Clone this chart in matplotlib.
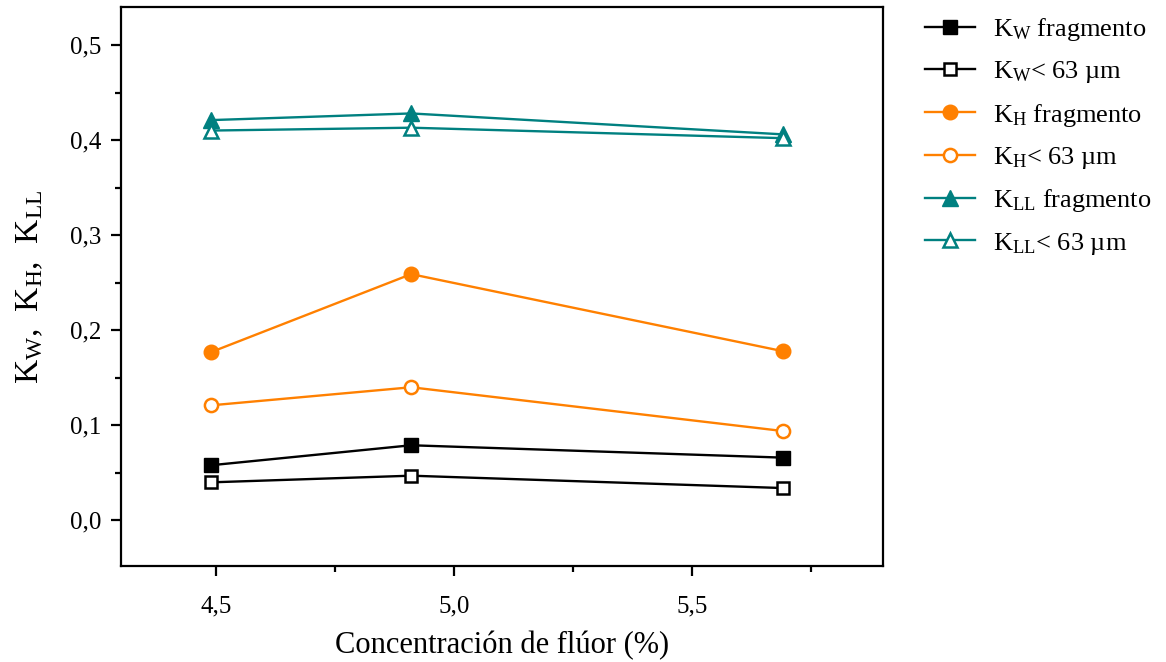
import matplotlib
matplotlib.use("Agg")
import matplotlib.pyplot as plt

plt.rcParams['font.family'] = ['Liberation Serif', 'DejaVu Serif']
plt.rcParams['mathtext.fontset'] = 'custom'
plt.rcParams['mathtext.rm'] = 'Liberation Serif'

# Data
fluor = [4.49, 4.91, 5.69]
kw_frag = [0.058, 0.079, 0.066]
kw_63 = [0.040, 0.047, 0.034]
kh_frag = [0.177, 0.259, 0.178]
kh_63 = [0.121, 0.140, 0.094]
kll_frag = [0.421, 0.428, 0.406]
kll_63 = [0.410, 0.413, 0.402]

labels = [r'$\mathregular{K_W}$ fragmento', r'$\mathregular{K_W}$< 63 µm',
          r'$\mathregular{K_H}$ fragmento', r'$\mathregular{K_H}$< 63 µm',
          r'$\mathregular{K_{LL}}$ fragmento', r'$\mathregular{K_{LL}}$< 63 µm']
xticks = [4.5, 5.0, 5.5]
xticklabels = ['4,5', '5,0', '5,5']
yticks = [0.0, 0.1, 0.2, 0.3, 0.4, 0.5]
yticklabels = ['0,0', '0,1', '0,2', '0,3', '0,4', '0,5']

black = '#000000'
orange = '#FF8000'
teal = '#008080'

fig = plt.figure(figsize=(11.66, 6.62), dpi=100)
ax = fig.add_axes([0.1035, 0.145, 0.6535, 0.8445])

lw = 1.7
ax.plot(fluor, kw_frag, color=black, lw=lw, marker='s', ms=10, mfc=black, mec=black, label=labels[0])
ax.plot(fluor, kw_63, color=black, lw=lw, marker='s', ms=8, mfc='white', mec=black, mew=1.8, label=labels[1])
ax.plot(fluor, kh_frag, color=orange, lw=lw, marker='o', ms=10.5, mfc=orange, mec=orange, label=labels[2])
ax.plot(fluor, kh_63, color=orange, lw=lw, marker='o', ms=9.5, mfc='white', mec=orange, mew=1.8, label=labels[3])
ax.plot(fluor, kll_frag, color=teal, lw=lw, marker='^', ms=11, mfc=teal, mec=teal, label=labels[4])
ax.plot(fluor, kll_63, color=teal, lw=lw, marker='^', ms=9.5, mfc='white', mec=teal, mew=1.8, label=labels[5])

ax.set_xlim(4.3, 5.9)
ax.set_ylim(-0.048, 0.54)
ax.set_xticks(xticks)
ax.set_xticklabels(xticklabels)
ax.set_xticks([4.75, 5.25, 5.75], minor=True)
ax.set_yticks(yticks)
ax.set_yticklabels(yticklabels)
ax.set_yticks([0.05, 0.15, 0.25, 0.35, 0.45], minor=True)

for s in ax.spines.values():
    s.set_linewidth(1.6)
ax.tick_params(which='major', direction='out', length=7, width=1.6, labelsize=18)
ax.tick_params(which='minor', direction='out', length=4, width=1.6)
ax.tick_params(axis='x', which='major', pad=14)
ax.tick_params(axis='y', which='major', pad=7)
ax.tick_params(top=False, right=False)

ax.set_xlabel('Concentración de flúor (%)', fontsize=22, labelpad=10)
ax.set_ylabel(r'$\mathregular{K_W,\ K_H,\ K_{LL}}$', fontsize=24, labelpad=18)

ax.legend(loc='upper left', bbox_to_anchor=(0.793, 0.976), bbox_transform=fig.transFigure,
          frameon=False, fontsize=19, handlelength=1.9, handletextpad=0.7,
          labelspacing=0.62, borderaxespad=0, borderpad=0)

fig.savefig('out.png', dpi=100)
